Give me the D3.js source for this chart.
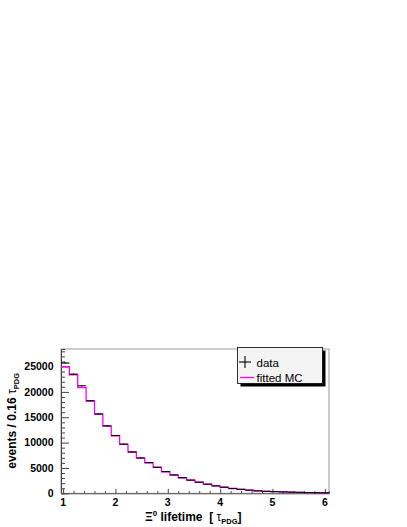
<!DOCTYPE html>
<html>
<head>
<meta charset="utf-8">
<script src="https://cdn.jsdelivr.net/npm/d3@7"></script>
<style>
  body { margin: 0; background: #fff; }
  text { font-family: "Liberation Sans", Arial, sans-serif; }
</style>
</head>
<body>
<div id="chart"></div>
<script>
// binning: 32 bins of 0.16 tau_PDG starting at 0.96
var binStart = 0.96;
var binWidth = 0.16;

// data counts per bin
var dataCounts = [25700, 23500, 21200, 18250, 15650, 13300, 11400, 9700,
                  8150, 6980, 6050, 5140, 4280, 3620, 3080, 2600,
                  2190, 1800, 1460, 1200, 950, 790, 620, 470,
                  400, 340, 280, 230, 190, 150, 120, 100];
// fitted MC per bin
var mcCounts = [25000, 23350, 20850, 18200, 15600, 13250, 11350, 9650,
                8150, 6950, 6000, 5100, 4250, 3600, 3060, 2580,
                2180, 1790, 1450, 1190, 950, 780, 610, 470,
                390, 330, 270, 220, 180, 145, 115, 95];

var xTicks = [1, 2, 3, 4, 5, 6];
var yTicks = [0, 5000, 10000, 15000, 20000, 25000];

var W = 407, H = 527;
var frame = {left: 61, right: 329, top: 349, bottom: 493.3};

var svg = d3.select("#chart").append("svg")
  .attr("width", W)
  .attr("height", H);

var x = d3.scaleLinear()
  .domain([binStart, binStart + binWidth * dataCounts.length])
  .range([frame.left, frame.right]);

var y = d3.scaleLinear()
  .domain([0, 28460])
  .range([frame.bottom, frame.top]);

// frame
svg.append("rect")
  .attr("x", frame.left).attr("y", frame.top)
  .attr("width", frame.right - frame.left)
  .attr("height", frame.bottom - frame.top)
  .attr("fill", "none")
  .attr("stroke", "#999")
  .attr("stroke-width", 1);

// axes, ROOT style ticks pointing inward
var yAxis = d3.axisLeft(y)
  .tickValues(d3.range(0, 28001, 1000))
  .tickSize(-4)
  .tickFormat("");
var yg = svg.append("g")
  .attr("transform", "translate(" + frame.left + ",0)")
  .call(yAxis);
yg.selectAll(".tick line")
  .attr("x2", function(d) { return d % 5000 == 0 ? 8 : 4; })
  .attr("stroke", "#444");
yg.select(".domain").attr("stroke", "#444");

yg.selectAll(".ylab")
  .data(yTicks)
  .enter()
  .append("text")
  .attr("class", "ylab")
  .attr("x", -7.5)
  .attr("y", function(d) { return y(d) + 3.8; })
  .attr("text-anchor", "end")
  .attr("font-size", "10.5px")
  .attr("font-weight", "bold")
  .attr("fill", "#000")
  .text(function(d) { return d; });

var xAxis = d3.axisBottom(x)
  .tickValues(d3.range(1, 6.01, 0.2).map(function(v) { return Math.round(v * 10) / 10; }))
  .tickSize(-2.2)
  .tickFormat("");
var xg = svg.append("g")
  .attr("transform", "translate(0," + frame.bottom + ")")
  .call(xAxis);
xg.selectAll(".tick line")
  .attr("y2", function(d) { return Math.abs(d - Math.round(d)) < 1e-6 ? -4.4 : -2.2; })
  .attr("stroke", "#444");
xg.select(".domain").attr("stroke", "#555");

xg.selectAll(".xlab")
  .data(xTicks)
  .enter()
  .append("text")
  .attr("class", "xlab")
  .attr("x", function(d) { return x(d); })
  .attr("y", 12.5)
  .attr("text-anchor", "middle")
  .attr("font-size", "10.5px")
  .attr("font-weight", "bold")
  .attr("fill", "#000")
  .text(function(d) { return d; });

// fitted MC as a step histogram
var stepData = [];
mcCounts.forEach(function(v, i) {
  stepData.push([binStart + i * binWidth, v]);
  stepData.push([binStart + (i + 1) * binWidth, v]);
});
var line = d3.line()
  .x(function(d) { return x(d[0]); })
  .y(function(d) { return y(d[1]); });
svg.append("path")
  .datum(stepData)
  .attr("d", line)
  .attr("fill", "none")
  .attr("stroke", "#ff00ff")
  .attr("stroke-width", 1.3);

// data: horizontal bin bars + statistical error bars
var pts = svg.append("g");
pts.selectAll(".hbar")
  .data(dataCounts)
  .enter()
  .append("line")
  .attr("x1", function(d, i) { return x(binStart + i * binWidth); })
  .attr("x2", function(d, i) { return x(binStart + (i + 1) * binWidth); })
  .attr("y1", function(d) { return y(d); })
  .attr("y2", function(d) { return y(d); })
  .attr("stroke", "#000")
  .attr("stroke-width", 1.1);
pts.selectAll(".vbar")
  .data(dataCounts)
  .enter()
  .append("line")
  .attr("x1", function(d, i) { return x(binStart + (i + 0.5) * binWidth); })
  .attr("x2", function(d, i) { return x(binStart + (i + 0.5) * binWidth); })
  .attr("y1", function(d) { return y(d + Math.sqrt(d)); })
  .attr("y2", function(d) { return y(d - Math.sqrt(d)); })
  .attr("stroke", "#000")
  .attr("stroke-width", 1);

// legend
var lg = svg.append("g");
lg.append("rect")
  .attr("x", 240.5).attr("y", 350.5)
  .attr("width", 85).attr("height", 36)
  .attr("fill", "#000");
lg.append("rect")
  .attr("x", 237.5).attr("y", 347.5)
  .attr("width", 85).attr("height", 36)
  .attr("fill", "#f4f4f4")
  .attr("stroke", "#000")
  .attr("stroke-width", 0.8);
lg.append("line")
  .attr("x1", 239).attr("x2", 251).attr("y1", 362).attr("y2", 362)
  .attr("stroke", "#000").attr("stroke-width", 1.1);
lg.append("line")
  .attr("x1", 245).attr("x2", 245).attr("y1", 356).attr("y2", 368)
  .attr("stroke", "#000").attr("stroke-width", 1.1);
lg.append("text")
  .attr("x", 256.5).attr("y", 366.5)
  .attr("font-size", "11.5px")
  .text("data");
lg.append("line")
  .attr("x1", 240).attr("x2", 254).attr("y1", 377.5).attr("y2", 377.5)
  .attr("stroke", "#ff00ff").attr("stroke-width", 1.3);
lg.append("text")
  .attr("x", 256.5).attr("y", 382)
  .attr("font-size", "11.5px")
  .text("fitted MC");

// axis titles
var xt = svg.append("text")
  .attr("x", 145).attr("y", 521)
  .attr("font-size", "12px")
  .attr("font-weight", "bold");
xt.append("tspan").text("\u039e");
xt.append("tspan").attr("font-size", "8px").attr("dy", -5).text("0");
xt.append("tspan").attr("dy", 5).text(" lifetime \u00a0[ ");
xt.append("tspan").attr("font-weight", "normal").text("\u03c4");
xt.append("tspan").attr("font-size", "7.5px").attr("dy", 2.5).text("PDG");
xt.append("tspan").attr("dy", -2.5).text("]");

var yt = svg.append("text")
  .attr("transform", "translate(16,373) rotate(-90)")
  .attr("text-anchor", "end")
  .attr("font-size", "12px")
  .attr("font-weight", "bold");
yt.append("tspan").text("events / 0.16 ");
yt.append("tspan").attr("font-weight", "normal").text("\u03c4");
yt.append("tspan").attr("font-size", "7.5px").attr("dy", 2.5).text("PDG");
</script>
</body>
</html>
